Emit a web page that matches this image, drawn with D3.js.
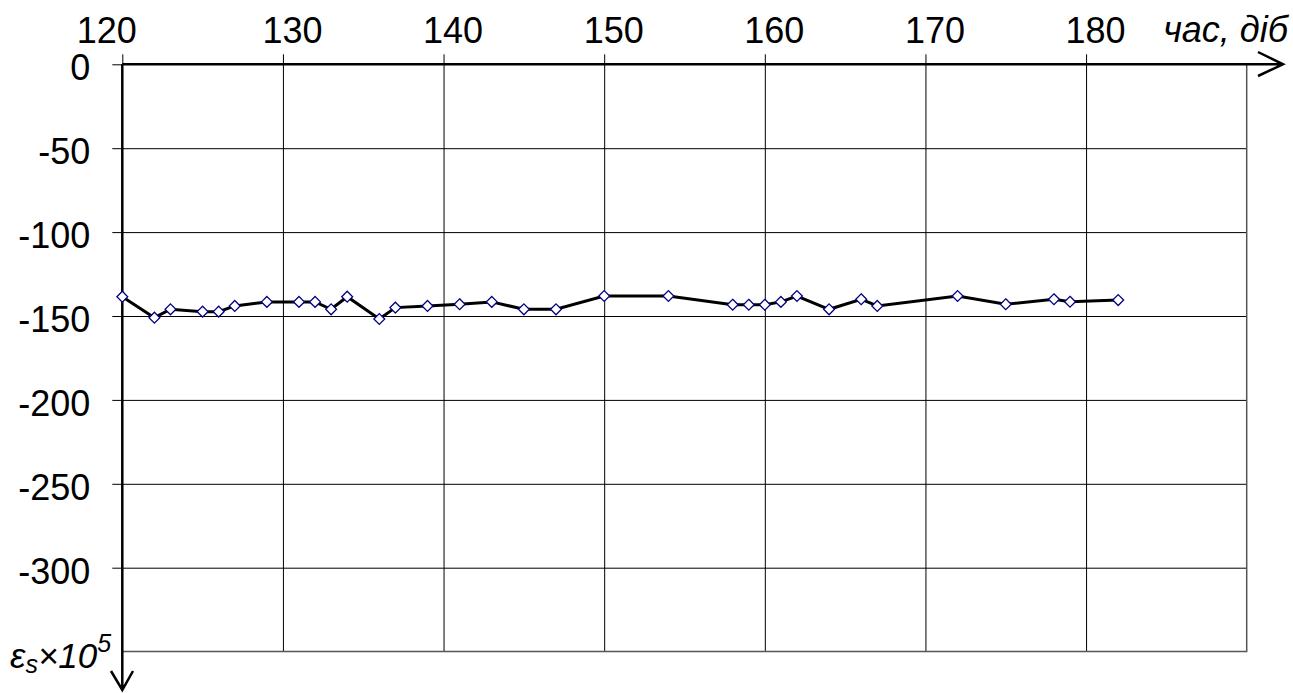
<!DOCTYPE html>
<html>
<meta charset="utf-8">
<head>
<title>strain vs time</title>
<style>
body { margin: 0; background: #fff; }
text { font-family: "Liberation Sans", Arial, sans-serif; }
.grid line { stroke: #000; stroke-width: 1px; }
.grid path { display: none; }
.line { fill: none; stroke: #000; stroke-width: 3px; }
.dot { fill: #fff; stroke: #000080; stroke-width: 1.3px; }
</style>
</head>
<body>
<script src="https://d3js.org/d3.v7.min.js"></script>
<script>

// time, days
var days = [120, 122, 123, 125, 126, 127, 129, 131, 132, 133, 134, 136, 137, 139, 141, 143, 145,
            147, 150, 154, 158, 159, 160, 161, 162, 164, 166, 167, 172, 175, 178, 179, 182];
// strain eps_s x 10^5
var strain = [-138.5, -151, -146, -147.4, -147.4, -144, -141.6, -141.6, -141.6, -146, -138.5, -151.8, -145, -144, -143, -141.6, -146,
              -146, -138.1, -138.1, -143.3, -143.3, -143.3, -141.6, -138.1, -146, -140, -144, -138.1, -143, -140, -141.5, -140.5];

var xTicks = [120, 130, 140, 150, 160, 170, 180];
var yTicks = [0, -50, -100, -150, -200, -250, -300];

var width = 1293, height = 693;
var fontSize = 36;

var x = d3.scaleLinear().domain([120, 190]).range([122.3, 1246.7]);
var y = d3.scaleLinear().domain([0, -350]).range([64.3, 651.6]);

var svg = d3.select("body").append("svg")
    .attr("width", width)
    .attr("height", height);

// grid
svg.append("g")
    .attr("class", "grid")
    .attr("transform", "translate(0," + y(0) + ")")
    .call(d3.axisBottom(x).tickValues(xTicks.slice(1)).tickSize(y(-350) - y(0)).tickFormat(""));
svg.append("g")
    .attr("class", "grid")
    .attr("transform", "translate(" + x(120) + ",0)")
    .call(d3.axisRight(y).tickValues(yTicks.slice(1)).tickSize(x(190) - x(120)).tickFormat(""));

// plot border right / bottom
svg.append("path")
    .attr("d", "M" + x(190) + "," + y(0) + "V" + y(-350) + "H" + x(120))
    .attr("fill", "none").attr("stroke", "#555").attr("stroke-width", 1.5);

// top axis with labels (labels sit a bit right of the ticks, first one pushed left)
var topAxis = svg.append("g")
    .attr("transform", "translate(0," + y(0) + ")")
    .call(d3.axisTop(x).tickValues(xTicks).tickSize(10).tickPadding(11)
        .tickFormat(function(d) { return String(d); }));
topAxis.select(".domain").remove();
topAxis.selectAll("line").attr("stroke", "#000");
topAxis.selectAll("text").attr("font-size", fontSize).attr("fill", "#000")
    .attr("font-family", "Liberation Sans, Arial, sans-serif")
    .attr("x", function(d) { return d === 120 ? -16 : 9; });

// left axis with labels
var leftAxis = svg.append("g")
    .attr("transform", "translate(" + x(120) + ",0)")
    .call(d3.axisLeft(y).tickValues(yTicks).tickSize(10).tickPadding(22)
        .tickFormat(function(d) { return String(d); }));
leftAxis.select(".domain").remove();
leftAxis.selectAll("line").attr("stroke", "#000");
leftAxis.selectAll("text").attr("font-size", fontSize).attr("fill", "#000").attr("dy", "0.43em")
    .attr("font-family", "Liberation Sans, Arial, sans-serif");

// main axis lines with arrows
svg.append("path")
    .attr("d", "M" + x(120) + "," + y(0) + "H1283M1258,52L1283," + y(0) + "L1258,76")
    .attr("fill", "none").attr("stroke", "#000").attr("stroke-width", 2.5);
svg.append("path")
    .attr("d", "M" + x(120) + "," + y(0) + "V690M111,671L" + x(120) + ",690L133,671")
    .attr("fill", "none").attr("stroke", "#000").attr("stroke-width", 2.5);

// series
var pts = days.map(function(d, i) { return [d, strain[i]]; });
var valueline = d3.line()
    .x(function(d) { return x(d[0]); })
    .y(function(d) { return y(d[1]); });

svg.append("path")
    .datum(pts)
    .attr("class", "line")
    .attr("d", valueline);

svg.selectAll(".dot")
    .data(pts)
    .enter().append("path")
    .attr("class", "dot")
    .attr("transform", function(d) { return "translate(" + x(d[0]) + "," + y(d[1]) + ")"; })
    .attr("d", d3.symbol().type(d3.symbolDiamond2).size(75));

// axis titles
svg.append("text")
    .attr("x", 1288).attr("y", 42)
    .attr("text-anchor", "end")
    .attr("font-size", fontSize).attr("font-style", "italic")
    .text("час, діб");

var yl = svg.append("text")
    .attr("x", 10).attr("y", 668)
    .attr("font-size", 35).attr("font-style", "italic");
yl.append("tspan").text("ε");
yl.append("tspan").attr("font-size", 25).attr("dy", 5).text("s");
yl.append("tspan").attr("dy", -5).text("×10");
yl.append("tspan").attr("font-size", 25).attr("dy", -16).text("5");

</script>
</body>
</html>
